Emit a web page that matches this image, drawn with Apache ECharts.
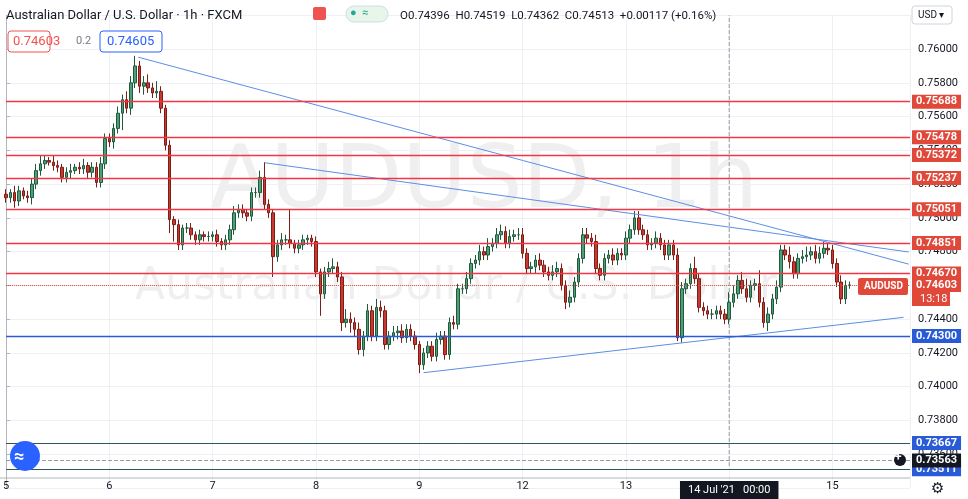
<!DOCTYPE html>
<html><head><meta charset="utf-8">
<script src="https://cdn.jsdelivr.net/npm/echarts@6/dist/echarts.min.js"></script>
<style>html,body{margin:0;padding:0;background:#fff}#c{width:968px;height:499px}</style>
</head><body><div id="c"></div>
<script>
const dayTicks = {0:'5',24:'6',48:'7',72:'8',96:'9',120:'12',144:'13',168:"14 Jul '21   00:00",192:'15'};
const highlightTick = 168;
const closes = [
0.7512,0.7515,0.7510,0.7516,0.7513,0.7512,0.7520,0.7528,0.7532,0.7534,0.7533,0.7531,0.7530,0.7524,0.7527,0.7528,0.7530,0.7529,0.7531,0.7527,0.7530,0.7521,0.7532,0.7547,
0.7545,0.7553,0.7562,0.7570,0.7565,0.7580,0.7590,0.7578,0.7580,0.7577,0.7574,0.7575,0.7565,0.7543,0.7499,0.7496,0.7484,0.7494,0.7494,0.7490,0.7487,0.7490,0.7489,0.7489,
0.7490,0.7486,0.7484,0.7487,0.7493,0.7503,0.7505,0.7503,0.7501,0.7515,0.7515,0.7524,0.7508,0.7503,0.7477,0.7484,0.7487,0.7487,0.7485,0.7482,0.7484,0.7487,0.7488,0.7486,
0.7468,0.7455,0.7468,0.7470,0.7471,0.7465,0.7438,0.7440,0.7438,0.7434,0.7422,0.7430,0.7445,0.7430,0.7447,0.7445,0.7425,0.7430,0.7432,0.7433,0.7429,0.7434,0.7430,0.7425,
0.7413,0.7420,0.7424,0.7418,0.7428,0.7430,0.7419,0.7438,
0.7437,0.7458,0.7458,0.7464,0.7473,0.7475,0.7480,0.7478,0.7483,0.7485,0.7490,0.7492,0.7485,0.7489,0.7490,0.7490,
0.7479,0.7470,0.7471,0.7475,0.7472,0.7468,0.7466,0.7468,0.7470,0.7460,0.7450,0.7453,0.7462,0.7476,0.7490,0.7488,0.7486,0.7470,0.7466,0.7476,0.7478,0.7475,0.7479,0.7478,0.7488,
0.7493,0.7500,0.7493,0.7490,0.7484,0.7485,0.7488,0.7484,0.7478,0.7484,0.7478,0.7429,0.7458,0.7461,0.7470,0.7464,0.7447,0.7445,0.7443,0.7443,0.7445,0.7443,0.7440,
0.7450,0.7455,0.7463,0.7458,0.7453,0.7460,0.7461,0.7450,0.7438,0.7443,0.7452,0.7459,0.7481,0.7478,0.7474,0.7467,0.7476,0.7477,0.7478,0.7480,0.7476,0.7479,0.7482,0.7481,0.7473,0.7462,0.7452,0.7460,0.74603];
const upperWickPips = [
3,2,4,3,2,3,3,4,5,3,2,4,3,2,3,4,2,3,4,2,3,3,4,3,
3,3,4,3,5,4,6,3,4,5,3,6,3,2,3,2,3,2,3,3,2,3,2,3,
2,3,2,3,3,4,3,3,2,3,3,4,9,3,2,3,4,3,18,2,3,3,2,2,
3,2,3,4,5,3,3,6,4,3,4,3,4,3,5,4,3,3,4,3,4,3,3,3,
2,3,3,3,4,3,3,3,4,3,3,4,3,3,4,3,5,3,4,4,3,4,3,4,
4,3,3,3,4,3,3,4,4,3,3,4,3,3,4,4,3,4,3,3,3,4,3,3,4,
3,4,4,3,3,3,4,3,3,3,3,4,4,3,3,7,3,3,3,3,3,3,3,
6,5,3,5,6,3,3,8,3,4,3,4,3,3,5,3,3,4,5,3,4,4,4,3,3,3,4,3,2];
const lowerWickPips = [
3,3,4,3,2,3,4,3,3,3,2,3,3,3,3,4,2,3,3,4,3,3,3,3,
3,4,3,10,3,4,3,4,5,3,3,3,3,3,8,10,3,3,3,3,3,3,3,3,
3,3,3,3,3,3,3,3,3,3,3,3,3,3,12,3,3,3,3,3,3,3,3,3,
3,13,3,3,3,3,5,3,6,4,3,4,3,3,3,4,3,3,3,4,3,3,3,3,
5,3,3,3,3,3,3,3,3,3,3,3,3,3,3,3,3,3,3,3,3,3,3,3,
3,3,3,4,3,3,3,3,3,3,4,3,3,3,3,3,3,3,3,3,3,3,3,3,3,
3,3,3,3,3,3,3,3,3,3,3,2,3,3,3,3,3,3,3,3,3,3,3,
3,3,3,3,3,3,3,3,3,5,3,3,3,3,4,3,3,3,3,3,3,3,3,3,3,3,3,3,2];
const firstOpen = 0.7514;
const redLevels = [0.75688,0.75478,0.75372,0.75237,0.75051,0.74851,0.74670];
const blueLevels = [0.74300];
const darkLevels = [0.73667,0.73511];
const lastPrice = 0.74603;
const crossPrice = 0.73563, crossLabel = '0.73563', crossIndex = 168;
// trend lines: [startIndex, startPrice, endIndex, endPrice]
const trendLines = [[30.7,0.75952,209.7,0.74726],[60,0.75327,209.7,0.74798],[97,0.74083,208.5,0.74411]];

const ohlc = [];
for (let i=0;i<closes.length;i++){
  const o = i===0?firstOpen:closes[i-1], c = closes[i];
  const hi = Math.max(o,c)+(upperWickPips[i]||3)*0.0001;
  const lo = Math.min(o,c)-(lowerWickPips[i]||3)*0.0001;
  ohlc.push([i,o,c,lo,hi]);
}
const f5 = v=>v.toFixed(5);
function levelSeries(values, lineColor, labelBg, type, txt, w){
  return {type:'line',data:[],silent:true,z:2,
    markLine:{symbol:['none','none'],precision:5,silent:true,animation:false,
      lineStyle:{color:lineColor,width:w||1,type:type||'solid',opacity:1},
      label:{show:true,position:'end',formatter:txt||(p=>f5(p.value)),backgroundColor:labelBg,color:'#fff',padding:[2,4,1,4],fontSize:11,fontWeight:'bold',fontFamily:'Roboto',distance:2},
      data:values.map(v=>({yAxis:v}))}};
}
const series = [{type:'candlestick',data:ohlc,barWidth:3,encode:{x:0,y:[1,2,3,4]},z:3,
    itemStyle:{color:'#4e9f78',color0:'#c8392f',borderColor:'#1f5a3c',borderColor0:'#7d1d16',borderWidth:1}}];
series.push(levelSeries(darkLevels,'#2f5560','#2a5bd7'));
series.push(levelSeries(redLevels,'#f23645','#e0483a',null,null,1.3));
series.push(levelSeries(blueLevels,'#2a5bd7','#2a5bd7',null,null,1.3));
series.push(levelSeries([lastPrice],'#e0483a','#e0483a','dotted'));
series.push(levelSeries([crossPrice],'#9598a1','#131722','dashed',crossLabel));
trendLines.forEach(t=>series.push({type:'line',data:[[t[0],t[1]],[t[2],t[3]]],symbol:'none',silent:true,
  lineStyle:{color:'#5b8ee6',width:1},z:4}));
series.push({type:'line',data:[[crossIndex,0.7353],[crossIndex,0.762]],symbol:'none',silent:true,lineStyle:{color:'#9598a1',width:1,type:'dashed'},z:1});

const chart = echarts.init(document.getElementById('c'));
chart.setOption({
  animation:false,
  grid:{left:0,right:58,top:15.3,bottom:9.6},
  xAxis:{type:'value',min:0,max:210,interval:24,
    axisLine:{show:false},axisTick:{show:false},
    axisLabel:{margin:-7,color:'#131722',fontSize:11,fontFamily:'Roboto',showMaxLabel:false,
      formatter:v=>dayTicks[v]===undefined?'':(v===highlightTick?'{hl|'+dayTicks[v]+'}':dayTicks[v]),
      rich:{hl:{backgroundColor:'#131722',color:'#fff',padding:[4,8,3,8],fontSize:11,fontFamily:'Roboto'}}},
    splitLine:{show:true,lineStyle:{color:'#eef0f5'}}},
  yAxis:{type:'value',position:'right',min:0.734,max:0.762,interval:0.002,
    axisLine:{show:true,lineStyle:{color:'#b2b5be'}},axisTick:{show:true,length:4,lineStyle:{color:'#b2b5be'}},
    axisLabel:{color:'#131722',fontSize:11,fontFamily:'Roboto',formatter:v=>v.toFixed(5),margin:8,showMaxLabel:false,showMinLabel:false},
    splitLine:{lineStyle:{color:'#eef0f5'}}},
  graphic:[
    {type:'text',left:'center',top:140,style:{text:'AUDUSD, 1h',font:'88px "DejaVu Sans"',fill:'rgba(120,123,134,0.12)'},z:0,silent:true},
    {type:'text',left:135,top:266,style:{text:'Australian Dollar / U.S. Dollar',font:'44px "DejaVu Sans"',fill:'rgba(120,123,134,0.12)'},z:0},
    {type:'line',shape:{x1:0,y1:478,x2:910,y2:478},style:{stroke:'#b2b5be'},z:41},
    {type:'text',left:6,top:9,style:{text:'Australian Dollar / U.S. Dollar · 1h · FXCM',font:'13px Roboto',fill:'#131722'},z:50},
    {type:'rect',shape:{x:313,y:7,width:13,height:13,r:2},style:{fill:'#ef5350'},z:50},
    {type:'rect',shape:{x:346,y:6,width:42,height:16,r:8},style:{fill:'#e8f5e9',stroke:'#cde'},z:50},
    {type:'text',left:350,top:8,style:{text:'●  ≈',font:'11px Roboto',fill:'#26a69a'},z:51},
    {type:'text',left:400,top:10,style:{text:'O0.74396  H0.74519  L0.74362  C0.74513  +0.00117 (+0.16%)',font:'11.5px Roboto',fill:'#131722'},z:50},
    {type:'rect',shape:{x:8,y:31,width:42,height:21,r:3},style:{fill:'#fff',stroke:'#ef5350'},z:50},
    {type:'text',left:13,top:35,style:{text:'0.74603',font:'13px Roboto',fill:'#ef5350'},z:51},
    {type:'text',left:76,top:36,style:{text:'0.2',font:'11px Roboto',fill:'#787b86'},z:51},
    {type:'rect',shape:{x:100,y:31,width:62,height:21,r:3},style:{fill:'#fff',stroke:'#2962ff'},z:50},
    {type:'text',left:107,top:35,style:{text:'0.74605',font:'13px Roboto',fill:'#2962ff'},z:51},
    {type:'rect',shape:{x:912,y:6,width:40,height:18,r:3},style:{fill:'#fff',stroke:'#d1d4dc'},z:50},
    {type:'text',left:918,top:10,style:{text:'USD ▾',font:'10px Roboto',fill:'#131722'},z:51},
    {type:'rect',shape:{x:858,y:278,width:50,height:17,r:2},style:{fill:'#e0483a'},z:50},
    {type:'text',left:864,top:281,style:{text:'AUDUSD',font:'bold 10px Roboto',fill:'#fff'},z:51},
    {type:'rect',shape:{x:912,y:292,width:38,height:14},style:{fill:'#e0483a'},z:50},
    {type:'text',left:920,top:294,style:{text:'13:18',font:'11px Roboto',fill:'#fff'},z:51},
    {type:'circle',shape:{cx:25,cy:456,r:15},style:{fill:'#2962ff'},z:50},
    {type:'text',left:14,top:448,style:{text:'≈',font:'bold 18px Roboto',fill:'#fff'},z:51},
    {type:'circle',shape:{cx:900,cy:460,r:6},style:{fill:'#131722'},z:50},
    {type:'text',left:895,top:452,style:{text:'+',font:'bold 12px Roboto',fill:'#fff'},z:51},
    {type:'text',left:931,top:482,style:{text:'⚙',font:'15px "DejaVu Sans"',fill:'#131722'},z:51}
  ],
  series
});
</script></body></html>
